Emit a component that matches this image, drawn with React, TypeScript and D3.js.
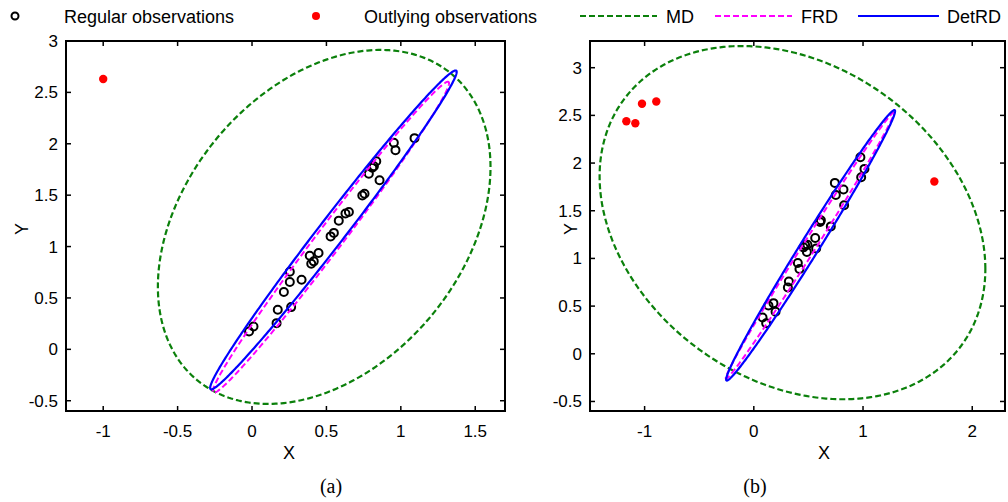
import { useEffect } from "react";
import * as d3 from "d3";

const W = 1008;
const H = 502;

// ---- panel (a) data ----
const aRegularX = [-0.02, 0.01, 0.165, 0.173, 0.263, 0.214, 0.254, 0.254, 0.333, 0.388, 0.447, 0.398, 0.415, 0.528, 0.55, 0.583, 0.628, 0.651, 0.741, 0.756, 0.785, 0.808, 0.819, 0.835, 0.857, 0.953, 0.964, 1.092];
const aRegularY = [0.174, 0.222, 0.255, 0.385, 0.411, 0.558, 0.655, 0.755, 0.677, 0.911, 0.938, 0.833, 0.856, 1.099, 1.133, 1.252, 1.321, 1.337, 1.496, 1.513, 1.708, 1.766, 1.782, 1.83, 1.645, 2.01, 1.938, 2.055];
const aOutlierX = [-1.0];
const aOutlierY = [2.63];
const aXTicks = [-1, -0.5, 0, 0.5, 1, 1.5];
const aYTicks = [-0.5, 0, 0.5, 1, 1.5, 2, 2.5, 3];
// location + scatter [sxx, sxy, syy] of each tolerance ellipse
const aMD = { cx: 0.485, cy: 1.191, s: [1.249, 0.651, 2.966] };
const aFRD = { cx: 0.53, cy: 1.09, s: [0.63, 1.19, 2.29] };
const aDetRD = { cx: 0.547, cy: 1.162, s: [0.686, 1.273, 2.406] };

// ---- panel (b) data ----
const bRegularX = [0.976, 1.013, 0.983, 0.742, 0.821, 0.751, 0.827, 0.614, 0.607, 0.705, 0.562, 0.47, 0.491, 0.455, 0.571, 0.486, 0.403, 0.418, 0.321, 0.312, 0.134, 0.18, 0.199, 0.08, 0.113];
const bRegularY = [2.061, 1.939, 1.851, 1.792, 1.722, 1.666, 1.557, 1.399, 1.382, 1.336, 1.214, 1.137, 1.144, 1.116, 1.105, 1.067, 0.952, 0.889, 0.758, 0.695, 0.506, 0.531, 0.44, 0.38, 0.321];
const bOutlierX = [-1.167, -1.085, -1.024, -0.893, 1.653];
const bOutlierY = [2.439, 2.418, 2.622, 2.646, 1.806];
const bXTicks = [-1, 0, 1, 2];
const bYTicks = [-0.5, 0, 0.5, 1, 1.5, 2, 2.5, 3];
const bMD = { cx: 0.354, cy: 1.375, s: [3.119, -0.857, 3.43] };
const bFRD = { cx: 0.514, cy: 1.135, s: [0.594, 1.072, 1.95] };
const bDetRD = { cx: 0.52, cy: 1.137, s: [0.598, 1.0876, 2.011] };

const GREEN = "#0b800b";
const SANS = "Arial, 'Liberation Sans', sans-serif";

type Ell = { cx: number; cy: number; s: number[] };

function ellipsePoints(e: Ell): [number, number][] {
  const [sxx, sxy, syy] = e.s;
  const l11 = Math.sqrt(sxx);
  const l21 = sxy / l11;
  const l22 = Math.sqrt(Math.max(syy - l21 * l21, 0));
  return d3.range(0, 2 * Math.PI, Math.PI / 180).map((t) => [
    e.cx + l11 * Math.cos(t),
    e.cy + l21 * Math.cos(t) + l22 * Math.sin(t),
  ]);
}

function Panel(p: {
  id: string;
  x0: number; x1: number; y0: number; y1: number;
  xDomain: [number, number]; yDomain: [number, number];
  xTicks: number[]; yTicks: number[];
  regX: number[]; regY: number[]; outX: number[]; outY: number[];
  md: Ell; frd: Ell; det: Ell;
  xLabelX: number; yLabelX: number; caption: string; captionX: number;
}) {
  const x = d3.scaleLinear().domain(p.xDomain).range([p.x0, p.x1]);
  const y = d3.scaleLinear().domain(p.yDomain).range([p.y1, p.y0]);
  const line = d3.line<[number, number]>().x((d) => x(d[0])).y((d) => y(d[1])).curve(d3.curveLinearClosed);
  const tl = 5;
  return (
    <g>
      <defs>
        <clipPath id={"clip" + p.id}>
          <rect x={p.x0} y={p.y0} width={p.x1 - p.x0} height={p.y1 - p.y0} />
        </clipPath>
      </defs>
      <g clipPath={`url(#clip${p.id})`}>
        {p.regX.map((v, i) => (
          <circle key={"r" + i} cx={x(v)} cy={y(p.regY[i])} r={4} fill="none" stroke="#000" strokeWidth={2} />
        ))}
        {p.outX.map((v, i) => (
          <circle key={"o" + i} cx={x(v)} cy={y(p.outY[i])} r={4.2} fill="#ff0000" />
        ))}
        <path d={line(ellipsePoints(p.md)) || ""} fill="none" stroke={GREEN} strokeWidth={2.2} strokeDasharray="6,3" />
        <path d={line(ellipsePoints(p.frd)) || ""} fill="none" stroke="#ff00ff" strokeWidth={2} strokeDasharray="6,3" />
        <path d={line(ellipsePoints(p.det)) || ""} fill="none" stroke="#0000ff" strokeWidth={2.2} />
      </g>
      <rect x={p.x0} y={p.y0} width={p.x1 - p.x0} height={p.y1 - p.y0} fill="none" stroke="#000" strokeWidth={2} />
      {p.xTicks.map((t) => (
        <g key={"xt" + t}>
          <line x1={x(t)} x2={x(t)} y1={p.y1} y2={p.y1 - tl} stroke="#000" strokeWidth={1.5} />
          <line x1={x(t)} x2={x(t)} y1={p.y0} y2={p.y0 + tl} stroke="#000" strokeWidth={1.5} />
          <text x={x(t)} y={p.y1 + 26} textAnchor="middle" fontFamily={SANS} fontSize={17}>{String(t)}</text>
        </g>
      ))}
      {p.yTicks.map((t) => (
        <g key={"yt" + t}>
          <line x1={p.x0} x2={p.x0 + tl} y1={y(t)} y2={y(t)} stroke="#000" strokeWidth={1.5} />
          <line x1={p.x1} x2={p.x1 - tl} y1={y(t)} y2={y(t)} stroke="#000" strokeWidth={1.5} />
          <text x={p.x0 - 8} y={y(t)} dy="0.35em" textAnchor="end" fontFamily={SANS} fontSize={17}>{String(t)}</text>
        </g>
      ))}
      <text x={p.xLabelX} y={p.y1 + 42} dy="0.35em" textAnchor="middle" fontFamily={SANS} fontSize={18}>X</text>
      <text transform={`translate(${p.yLabelX},${(p.y0 + p.y1) / 2 + 3}) rotate(-90)`} dy="0.35em" textAnchor="middle" fontFamily={SANS} fontSize={18}>Y</text>
      <text x={p.captionX} y={486} dy="0.35em" textAnchor="middle" fontFamily="'Times New Roman', 'Liberation Serif', serif" fontSize={20}>{p.caption}</text>
    </g>
  );
}

export default function App() {
  useEffect(() => {
    document.body.style.margin = "0";
  }, []);
  const ly = 17;
  return (
    <svg width={W} height={H} style={{ display: "block", background: "#fff" }}>
      <g>
        <circle cx={15} cy={ly - 1} r={3.5} fill="none" stroke="#000" strokeWidth={2} />
        <text x={64} y={ly} dy="0.35em" fontFamily={SANS} fontSize={18}>Regular observations</text>
        <circle cx={316} cy={ly - 1} r={4} fill="#ff0000" />
        <text x={364} y={ly} dy="0.35em" fontFamily={SANS} fontSize={18}>Outlying observations</text>
        <line x1={580} x2={657} y1={ly - 1} y2={ly - 1} stroke={GREEN} strokeWidth={2.2} strokeDasharray="6,3" />
        <text x={666} y={ly} dy="0.35em" fontFamily={SANS} fontSize={18}>MD</text>
        <line x1={715} x2={792} y1={ly - 1} y2={ly - 1} stroke="#ff00ff" strokeWidth={2} strokeDasharray="6,3" />
        <text x={801} y={ly} dy="0.35em" fontFamily={SANS} fontSize={18}>FRD</text>
        <line x1={858} x2={939} y1={ly - 1} y2={ly - 1} stroke="#0000ff" strokeWidth={2.2} />
        <text x={947} y={ly} dy="0.35em" fontFamily={SANS} fontSize={18}>DetRD</text>
      </g>
      <Panel id="a" x0={66} x1={505} y0={41} y1={411} xDomain={[-1.25, 1.7]} yDomain={[-0.6, 3]}
        xTicks={aXTicks} yTicks={aYTicks} regX={aRegularX} regY={aRegularY} outX={aOutlierX} outY={aOutlierY}
        md={aMD} frd={aFRD} det={aDetRD} xLabelX={289} yLabelX={22} caption="(a)" captionX={331} />
      <Panel id="b" x0={590} x1={1005} y0={41} y1={411} xDomain={[-1.5, 2.3]} yDomain={[-0.6, 3.28]}
        xTicks={bXTicks} yTicks={bYTicks} regX={bRegularX} regY={bRegularY} outX={bOutlierX} outY={bOutlierY}
        md={bMD} frd={bFRD} det={bDetRD} xLabelX={824} yLabelX={571} caption="(b)" captionX={755} />
    </svg>
  );
}
